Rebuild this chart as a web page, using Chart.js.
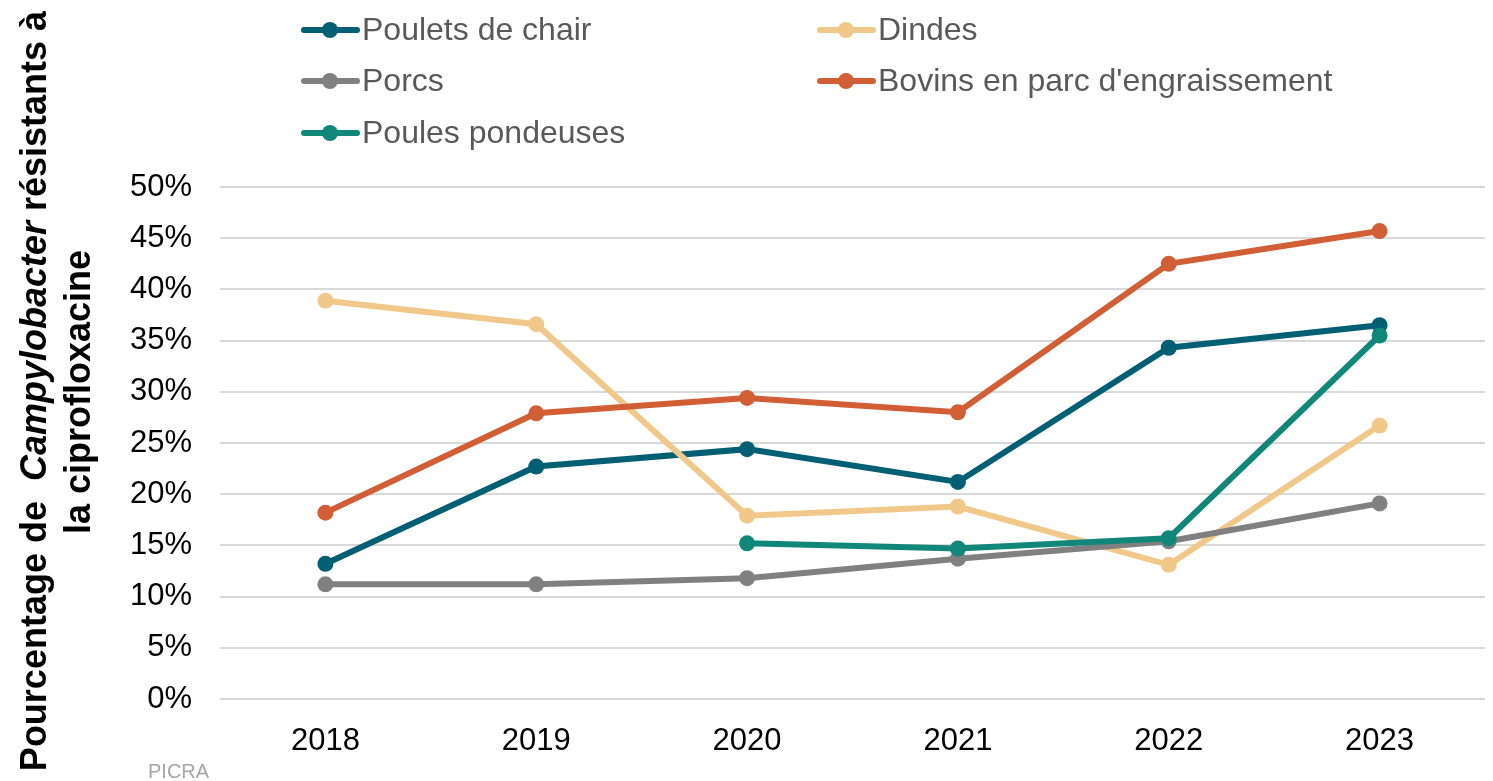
<!DOCTYPE html>
<html lang="fr">
<head>
<meta charset="utf-8">
<title>Campylobacter résistants à la ciprofloxacine</title>
<script src="https://cdn.jsdelivr.net/npm/chart.js@4/dist/chart.umd.min.js"></script>
<style>
  html, body { margin: 0; padding: 0; background: #fff; }
  #wrap { width: 1493px; height: 781px; position: relative; }
</style>
</head>
<body>
<div id="wrap"><canvas id="resistChart"></canvas></div>
<script>
// Données
const annees = ['2018', '2019', '2020', '2021', '2022', '2023'];
const pouletsChair = [13.2, 22.7, 24.4, 21.2, 34.3, 36.5];
const dindes = [38.9, 36.6, 17.9, 18.8, 13.1, 26.7];
const porcs = [11.2, 11.2, 11.8, 13.7, 15.4, 19.1];
const bovins = [18.2, 27.9, 29.4, 28.0, 42.5, 45.7];
const poulesPondeuses = [null, null, 15.2, 14.7, 15.7, 35.5];
const ticksY = [0, 5, 10, 15, 20, 25, 30, 35, 40, 45, 50];

const FONT = "'Liberation Sans', Arial, sans-serif";

function serie(label, data, color, i) {
    return {
        label: label,
        data: data,
        borderColor: color,
        backgroundColor: color,
        borderWidth: 6,
        pointRadius: 8,
        pointHoverRadius: 8,
        pointBorderWidth: 0,
        tension: 0,
        spanGaps: false,
        order: 10 - i
    };
}

const datasets = [
    serie('Poulets de chair', pouletsChair, '#005F73', 0),
    serie('Dindes', dindes, '#F0C98A', 1),
    serie('Porcs', porcs, '#808080', 2),
    serie("Bovins en parc d'engraissement", bovins, '#D15E34', 3),
    serie('Poules pondeuses', poulesPondeuses, '#11877A', 4)
];

// Légende sur deux colonnes + titre de l'axe Y + source
const decor = {
    id: 'decor',
    afterDraw(chart) {
        const c = chart.ctx;
        c.save();

        // légende
        const cols = [302, 818];
        const rows = [30, 81, 133];
        c.font = '32px ' + FONT;
        c.textBaseline = 'middle';
        c.textAlign = 'left';
        chart.data.datasets.forEach((ds, i) => {
            const x = cols[i % 2];
            const y = rows[Math.floor(i / 2)];
            c.strokeStyle = ds.borderColor;
            c.lineWidth = 6;
            c.lineCap = 'round';
            c.beginPath();
            c.moveTo(x + 2, y);
            c.lineTo(x + 55, y);
            c.stroke();
            c.fillStyle = ds.borderColor;
            c.beginPath();
            c.arc(x + 28, y, 8, 0, Math.PI * 2);
            c.fill();
            c.fillStyle = '#595959';
            c.fillText(ds.label, x + 60, y + 1);
        });

        // titre de l'axe Y (deux lignes, Campylobacter en italique)
        const size = 36;
        const parts = [
            ['Pourcentage de  ', 'bold'],
            ['Campylobacter', 'italic bold'],
            [' résistants à', 'bold']
        ];
        c.rotate(-Math.PI / 2);
        c.fillStyle = '#000';
        c.textBaseline = 'middle';
        let total = 0;
        parts.forEach(p => {
            c.font = p[1] + ' ' + size + 'px ' + FONT;
            total += c.measureText(p[0]).width;
        });
        let pos = -391 - total / 2;
        parts.forEach(p => {
            c.font = p[1] + ' ' + size + 'px ' + FONT;
            c.fillText(p[0], pos, 36);
            pos += c.measureText(p[0]).width;
        });
        c.font = 'bold ' + size + 'px ' + FONT;
        c.textAlign = 'center';
        c.fillText('la ciprofloxacine', -392, 80);
        c.restore();

        // source
        c.save();
        c.font = '20px ' + FONT;
        c.fillStyle = '#A6A6A6';
        c.textAlign = 'left';
        c.textBaseline = 'middle';
        c.fillText('PICRA', 148, 772);
        c.restore();
    }
};

const ctx = document.getElementById('resistChart').getContext('2d');
new Chart(ctx, {
    type: 'line',
    data: { labels: annees, datasets: datasets },
    plugins: [decor],
    options: {
        responsive: true,
        maintainAspectRatio: false,
        animation: false,
        layout: { padding: { top: 187, right: 7, left: 0, bottom: 0 } },
        plugins: {
            legend: { display: false },
            tooltip: { enabled: false }
        },
        scales: {
            x: {
                offset: true,
                grid: { display: false },
                border: { display: false },
                ticks: { color: '#000', font: { family: FONT, size: 31 }, padding: 16 },
                afterFit(scale) { scale.height = 82; }
            },
            y: {
                min: 0,
                max: 50,
                afterBuildTicks(scale) { scale.ticks = ticksY.map(v => ({ value: v })); },
                grid: { color: '#D9D9D9', lineWidth: 2, drawTicks: false },
                border: { display: false },
                ticks: {
                    color: '#000',
                    font: { family: FONT, size: 31 },
                    padding: 28,
                    callback: v => v + '%'
                },
                afterFit(scale) { scale.width = 220; }
            }
        }
    }
});
</script>
</body>
</html>
